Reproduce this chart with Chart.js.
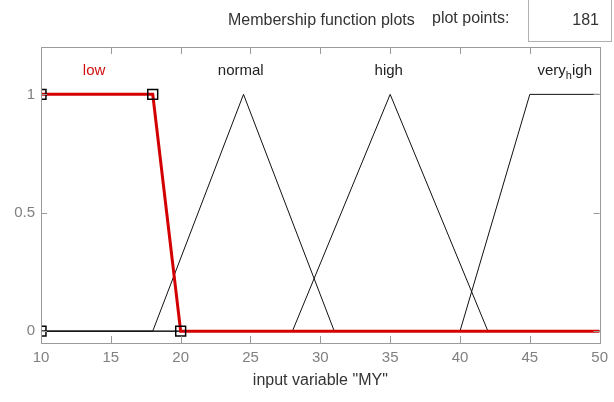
<!DOCTYPE html>
<html>
<head>
<meta charset="utf-8">
<script src="https://cdn.jsdelivr.net/npm/chart.js@4"></script>
<style>
  html, body { margin: 0; padding: 0; background: #fff; }
  #wrap { position: relative; width: 614px; height: 402px; font-family: "Liberation Sans", Arial, sans-serif; }
  #myChart { position: absolute; left: 0; top: 0; }
  .hdr { position: absolute; color: #333; font-size: 16px; white-space: nowrap; }
  #pts { position: absolute; left: 528px; top: -2px; width: 84px; height: 44px; border: 1px solid #b0b0b0; border-top: none; box-sizing: border-box; }
  #pts span { position: absolute; right: 12px; top: 13px; font-size: 16px; color: #333; }
</style>
</head>
<body>
<div id="wrap">
  <canvas id="myChart" width="614" height="402"></canvas>
  <div class="hdr" style="left:228px; top:11px;">Membership function plots</div>
  <div class="hdr" style="left:432px; top:9px;">plot points:</div>
  <div id="pts"><span>181</span></div>
</div>
<script>
// membership functions of input variable "MY"
const lowX = [10, 18, 20, 50];
const lowY = [1, 1, 0, 0];
const lowVertX = [10, 10, 18, 20];
const lowVertY = [0, 1, 1, 0];
const normalX = [10, 18, 24.5, 31, 50];
const normalY = [0, 0, 1, 0, 0];
const highX = [10, 28, 35, 42, 50];
const highY = [0, 0, 1, 0, 0];
const veryHighX = [10, 40, 45, 50];
const veryHighY = [0, 0, 1, 1];

const mfNames = ['low', 'normal', 'high', 'very_high'];
const labelX = [13.8, 24.3, 34.9, 47.5];
const labelY = 1.1;

const xTicks = [10, 15, 20, 25, 30, 35, 40, 45, 50];
const yTicks = [0, 0.5, 1];

const pts = (xs, ys) => xs.map((x, i) => ({ x: x, y: ys[i] }));

const mfPlugin = {
  id: 'mfPlugin',
  afterDraw(chart) {
    const ctx = chart.ctx;
    const a = chart.chartArea;
    const xs = chart.scales.x, ys = chart.scales.y;
    ctx.save();
    // frame
    ctx.strokeStyle = '#9a9a9a';
    ctx.lineWidth = 1;
    ctx.strokeRect(Math.round(a.left) + 0.5, Math.round(a.top) + 0.5, Math.round(a.right - a.left), Math.round(a.bottom - a.top));
    // inward ticks
    ctx.beginPath();
    xTicks.forEach(v => {
      const px = Math.round(xs.getPixelForValue(v)) + 0.5;
      ctx.moveTo(px, a.bottom); ctx.lineTo(px, a.bottom - 7);
      ctx.moveTo(px, a.top); ctx.lineTo(px, a.top + 7);
    });
    yTicks.forEach(v => {
      const py = Math.round(ys.getPixelForValue(v)) + 0.5;
      ctx.moveTo(a.left, py); ctx.lineTo(a.left + 6, py);
      ctx.moveTo(a.right, py); ctx.lineTo(a.right - 6, py);
    });
    ctx.stroke();
    // mf names
    const f = '"Liberation Sans", Arial, sans-serif';
    ctx.font = '15px ' + f;
    ctx.textBaseline = 'middle';
    mfNames.forEach((name, i) => {
      const cx = xs.getPixelForValue(labelX[i]);
      const cy = ys.getPixelForValue(labelY);
      ctx.fillStyle = i === 0 ? '#d01010' : '#222';
      const k = name.indexOf('_');
      if (k < 0) {
        ctx.textAlign = 'center';
        ctx.fillText(name, cx, cy);
      } else {
        // tex style: char after '_' is a subscript
        const p1 = name.slice(0, k), sub = name[k + 1], p2 = name.slice(k + 2);
        ctx.textAlign = 'left';
        const w1 = ctx.measureText(p1).width, w3 = ctx.measureText(p2).width;
        ctx.font = '11px ' + f;
        const w2 = ctx.measureText(sub).width;
        const x0 = cx - (w1 + w2 + w3) / 2;
        ctx.fillText(sub, x0 + w1, cy + 5);
        ctx.font = '15px ' + f;
        ctx.fillText(p1, x0, cy);
        ctx.fillText(p2, x0 + w1 + w2, cy);
      }
    });
    ctx.restore();
  }
};

const ctx = document.getElementById('myChart').getContext('2d');
const myChart = new Chart(ctx, {
  type: 'scatter',
  data: {
    datasets: [
      { label: 'low vertices', data: pts(lowVertX, lowVertY), showLine: false, pointStyle: 'rect', pointRadius: 7, pointBorderColor: '#000', pointBackgroundColor: 'rgba(0,0,0,0)', pointBorderWidth: 1.5, clip: 0 },
      { label: 'low', data: pts(lowX, lowY), showLine: true, borderColor: '#d40000', borderWidth: 3, pointRadius: 0, clip: 0 },
      { label: 'normal', data: pts(normalX, normalY), showLine: true, borderColor: '#111', borderWidth: 1, pointRadius: 0, clip: 0 },
      { label: 'high', data: pts(highX, highY), showLine: true, borderColor: '#111', borderWidth: 1, pointRadius: 0, clip: 0 },
      { label: 'very_high', data: pts(veryHighX, veryHighY), showLine: true, borderColor: '#111', borderWidth: 1, pointRadius: 0, clip: 0 }
    ]
  },
  options: {
    responsive: false,
    animation: false,
    layout: { padding: { top: 47, right: 11, left: 0, bottom: 0 } },
    plugins: { legend: { display: false }, tooltip: { enabled: false } },
    scales: {
      x: {
        type: 'linear', min: 10, max: 50,
        grid: { display: false, drawTicks: false },
        border: { display: false },
        afterBuildTicks: s => { s.ticks = xTicks.map(v => ({ value: v })); },
        afterFit: s => { s.height = 59; },
        ticks: { color: '#808080', padding: 6, maxRotation: 0, autoSkip: false, font: { family: '"Liberation Sans", Arial, sans-serif', size: 15 } },
        title: { display: true, text: 'input variable "MY"', color: '#333', padding: { top: 0, bottom: 12 }, font: { family: '"Liberation Sans", Arial, sans-serif', size: 16 } }
      },
      y: {
        min: -0.05, max: 1.2,
        grid: { display: false, drawTicks: false },
        border: { display: false },
        afterBuildTicks: s => { s.ticks = yTicks.map(v => ({ value: v })); },
        afterFit: s => { s.width = 41; },
        ticks: { color: '#808080', padding: 6, font: { family: '"Liberation Sans", Arial, sans-serif', size: 15 }, callback: v => String(v) }
      }
    }
  },
  plugins: [mfPlugin]
});
</script>
</body>
</html>
